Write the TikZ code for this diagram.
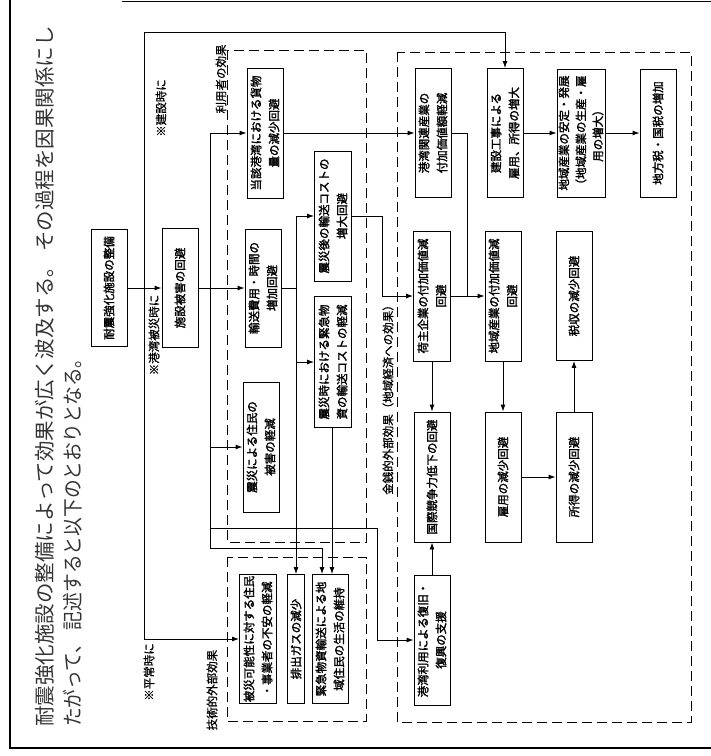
\documentclass[tikz,border=0pt]{standalone}
\usepackage{fontspec}
\usepackage{graphicx}
\setmainfont{Noto Sans CJK JP}
\newfontfamily\bxfam{Noto Sans CJK JP}[FakeBold=2]
\newfontfamily\lbfam{Noto Sans CJK JP}[FakeBold=1]
\usetikzlibrary{arrows.meta}
\newcommand{\bxfont}{\bxfam\fontsize{11.5}{18}\selectfont}
\newcommand{\bxfontb}{\bxfam\fontsize{11.5}{17}\selectfont}
\newcommand{\lbfont}{\lbfam\fontsize{11.5}{14}\selectfont}
\newcommand{\hdfont}{\fontsize{20.5}{24}\selectfont}
\begin{document}
\begin{tikzpicture}[x=1pt,y=-1pt,
  bx/.style={draw, line width=0.9pt, rotate=90, align=center, inner sep=0pt, font=\bxfont, minimum height=36pt},
  lb/.style={rotate=90, inner sep=0pt, font=\lbfont},
  hd/.style={rotate=90, anchor=west, inner sep=0pt, font=\hdfont, text=black!80},
  ln/.style={line width=0.9pt},
  arr/.style={line width=0.9pt, -{Latex[length=7pt,width=5pt]}},
  grp/.style={line width=0.9pt, dash pattern=on 10pt off 5pt},
  frm/.style={line width=1.6pt}]
\useasboundingbox (0,0) rectangle (711,756);

% frame
\draw[frm] (122,1.5) -- (711,1.5);
\draw[frm] (10,0) -- (10,748) -- (711,748);

% header
\node[hd] (h1) at (45,727) {耐震強化施設の整備によって効果が広く波及する。\hspace{0.25em}その過程を因果関係にし};
\node[hd] (h2) at (73,727) {\scalebox{0.915}[1]{たがって、\hspace{0.25em}記述すると以下のとおりとなる。}};

% group boxes
\draw[grp] (227,50) rectangle (366,542);
\draw[grp] (227,557) rectangle (366,721);
\draw[grp] (397,52) rectangle (691,722);

% labels
\node[lb] (lhisai) at (154,335) {※港湾被災時に};
\node[lb] (lken) at (161,108) {※建設時に};
\node[lb] (lhei) at (149,672) {※平常時に};
\node[lb] (lriyo) at (221,79) {利用者の効果};
\node[lb] (lgijutsu) at (212,690) {技術的外部効果};
\node[lb] (lkinsen) at (388,397) {金銭的外部効果（地域経済への効果）};

% boxes
\node[bx, minimum width=117pt] (taishin) at (109,288) {耐震強化施設の整備};
\node[bx, minimum width=119pt] (shisetsu) at (180,288) {施設被害の回避};
\node[bx, minimum width=130pt] (touga) at (265,133) {当該港湾における貨物\\量の減少回避};
\node[bx, minimum width=118pt] (yusou) at (263,288) {輸送費用・時間の\\増加回避};
\node[bx, minimum width=130pt] (jushin) at (261,447) {震災による住民の\\被害の軽減};
\node[bx, minimum width=130pt, minimum height=37pt] (shingo) at (333,216) {震災後の輸送コストの\\増大回避};
\node[bx, minimum width=131pt, minimum height=37pt] (shinji) at (333,362) {震災時における緊急物\\資の輸送コストの軽減};
\node[bx, minimum width=129pt, minimum height=37pt] (hisai) at (258,639) {被災可能性に対する住民\\・事業者の不安の軽減};
\node[bx, minimum width=129pt, minimum height=17pt] (haishutsu) at (296,639) {排出ガスの減少};
\node[bx, minimum width=129pt] (kinkyu) at (330,639) {緊急物資輸送による地\\域住民の生活の維持};
\node[bx, minimum width=129pt] (kouwan) at (433,133) {港湾関連産業の\\付加価値額軽減};
\node[bx, minimum width=130pt, minimum height=37pt] (ninushi) at (432,296) {荷主企業の付加価値減\\回避};
\node[bx, minimum width=130pt] (kokusai) at (432,477) {国際競争力低下の回避};
\node[bx, minimum width=130pt] (riyou) at (432,640) {港湾利用による復旧・\\復興の支援};
\node[bx, minimum width=129pt] (kensetsu) at (505,133) {建設工事による\\雇用、所得の増大};
\node[bx, minimum width=130pt] (chiiki) at (503,296) {地域産業の付加価値減\\回避};
\node[bx, minimum width=130pt] (koyou) at (503,477) {雇用の減少回避};
\node[bx, minimum width=128pt, minimum height=48pt, font=\bxfontb] (antei) at (581,133) {地域産業の安定・発展\\（地域産業の生産・雇\\用の増大）};
\node[bx, minimum width=129pt] (zeishu) at (574,296) {税収の減少回避};
\node[bx, minimum width=130pt] (shotoku) at (574,477) {所得の減少回避};
\node[bx, minimum width=128pt] (chihou) at (658,133) {地方税・国税の増加};

% coordinates
\coordinate (t1a) at (144,32);
\coordinate (t1b) at (144,639);
\coordinate (t2a) at (210,133);
\coordinate (t2b) at (210,548);
\coordinate (t2c) at (210,528);
\coordinate (r1) at (377,528);
\coordinate (k1) at (322,548);
\coordinate (k2) at (332,0);
\coordinate (u1) at (296,216);
\coordinate (s1) at (382,216);
\coordinate (s2) at (467,133);

% connectors
\draw[arr] (taishin) -- (shisetsu);
\draw[ln] (t1a) -- (t1b);
\draw[arr] (t1a) -| (kensetsu.east);
\draw[arr] (t1b) -- (t1b -| hisai.north);
\draw[ln] (shisetsu) -- (shisetsu -| t2a);
\draw[ln] (t2a) -- (t2b);
\draw[arr] (t2a) -- (touga);
\draw[arr] (shisetsu -| t2a) -- (yusou);
\draw[arr] (t2a |- jushin) -- (jushin);
\draw[arr] (t2c) -- (r1) |- (riyou);
\draw[arr] (t2b) -- (k1) -- (k1 |- kinkyu.east);
\draw[ln] (yusou) -- (yusou -| u1);
\draw[arr] (u1) -- (haishutsu);
\draw[arr] (u1) -- (shingo);
\draw[arr] (u1 |- shinji) -- (shinji);
\draw[arr] (shinji.west -| k2) -- (kinkyu.east -| k2);
\draw[arr] (touga) -- (kouwan);
\draw[arr] (shingo) -- (s1) |- (ninushi);
\draw[ln] (kouwan) -- (s2) -- (s2 |- ninushi);
\draw[arr] (ninushi) -- (chiiki);
\draw[arr] (ninushi) -- (kokusai);
\draw[arr] (riyou) -- (kokusai);
\draw[arr] (chiiki) -- (koyou);
\draw[arr] (koyou) -- (shotoku);
\draw[arr] (shotoku) -- (zeishu);
\draw[arr] (kensetsu) -- (antei);
\draw[arr] (antei) -- (chihou);
\end{tikzpicture}
\end{document}
